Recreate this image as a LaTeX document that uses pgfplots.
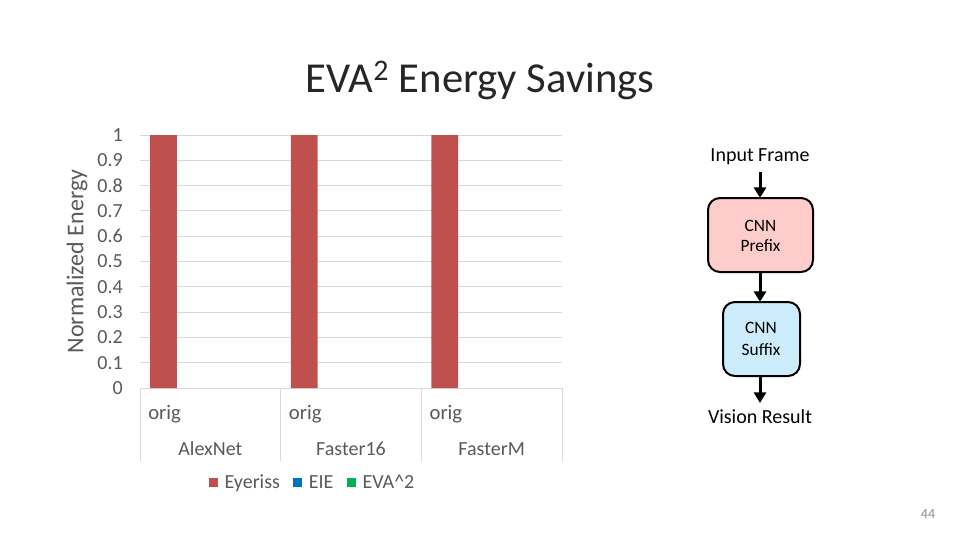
\documentclass[border=0pt]{standalone}
\usepackage{fontspec}
\setmainfont{Carlito}
\usepackage{pgfplots}
\pgfplotsset{compat=1.18}
\usetikzlibrary{arrows.meta}
\definecolor{ered}{RGB}{192,80,77}
\definecolor{eblue}{RGB}{0,112,192}
\definecolor{egreen}{RGB}{0,176,80}
\definecolor{tgray}{RGB}{89,89,89}
\definecolor{ggray}{RGB}{217,217,217}
\definecolor{pinkbox}{RGB}{255,204,204}
\definecolor{bluebox}{RGB}{204,236,252}
\begin{document}
\begin{tikzpicture}
\path[use as bounding box] (0,0) rectangle (720pt,-405pt);
\begin{axis}[
  at={(105pt,-291pt)}, anchor=south west,
  scale only axis, width=316.5pt, height=189.75pt,
  xmin=0, xmax=3, ymin=0, ymax=1,
  ytick={0,0.1,0.2,0.3,0.4,0.5,0.6,0.7,0.8,0.9,1},
  yticklabels={0,0.1,0.2,0.3,0.4,0.5,0.6,0.7,0.8,0.9,1},
  xtick=\empty,
  axis line style={draw=none},
  tick style={draw=none},
  ymajorgrids, major grid style={ggray, line width=0.75pt},
  yticklabel style={font=\fontsize{15}{15}\selectfont, text=tgray, anchor=east, inner sep=0pt, xshift=-12.75pt},
  clip=false,
  legend style={at={(rel axis cs:0.41,-0.375)}, anchor=center, draw=none, fill=none,
    font=\fontsize{15}{15}\selectfont, text=tgray, legend columns=-1,
    /tikz/every odd column/.append style={column sep=3pt},
    /tikz/every even column/.append style={column sep=8pt}},
  legend image code/.code={\path[#1, draw=none] (0pt,-3.375pt) rectangle (6.75pt,3.375pt);},
]
\addplot[ybar, bar width=0.19, fill=ered, draw=none] coordinates {(0.167,1) (1.167,1) (2.167,1)};
\addlegendentry{Eyeriss}
\addlegendimage{fill=eblue}
\addlegendentry{EIE}
\addlegendimage{fill=egreen}
\addlegendentry{EVA\textasciicircum 2}
\draw[ggray, line width=0.75pt] (axis cs:0,0) -- (axis cs:0,-0.2885);
\draw[ggray, line width=0.75pt] (axis cs:1,0) -- (axis cs:1,-0.2885);
\draw[ggray, line width=0.75pt] (axis cs:2,0) -- (axis cs:2,-0.2885);
\draw[ggray, line width=0.75pt] (axis cs:3,0) -- (axis cs:3,-0.2885);
\node[anchor=west, inner sep=0pt, text=tgray, font=\fontsize{15.5}{15.5}\selectfont] at (axis cs:0.057,-0.105) {orig};
\node[anchor=west, inner sep=0pt, text=tgray, font=\fontsize{15.5}{15.5}\selectfont] at (axis cs:1.057,-0.105) {orig};
\node[anchor=west, inner sep=0pt, text=tgray, font=\fontsize{15.5}{15.5}\selectfont] at (axis cs:2.057,-0.105) {orig};
\node[text=tgray, font=\fontsize{15}{15}\selectfont] at (axis cs:0.5,-0.241) {AlexNet};
\node[text=tgray, font=\fontsize{15}{15}\selectfont] at (axis cs:1.5,-0.241) {Faster16};
\node[text=tgray, font=\fontsize{15}{15}\selectfont] at (axis cs:2.5,-0.241) {FasterM};
\node[rotate=90, text=tgray, font=\fontsize{18}{18}\selectfont] at (rel axis cs:-0.149,0.5) {Normalized Energy};
\end{axis}
\begin{scope}[x=0.75pt, y=-0.75pt]
\node[font=\fontsize{32}{32}\selectfont, text=black!85] at (480,80) {EVA\textsuperscript{2} Energy Savings};
\node[font=\fontsize{15}{15}\selectfont] at (760,157) {Input Frame};
\draw[line width=2.25pt, -{Triangle[length=8pt,width=9pt]}] (760,172) -- (760,198);
\draw[line width=1.5pt, rounded corners=9pt, fill=pinkbox] (708,198) rectangle (813,272);
\node[font=\fontsize{13}{13}\selectfont] at (760.5,226) {CNN};
\node[font=\fontsize{13}{13}\selectfont] at (760.5,246) {Prefix};
\draw[line width=2.25pt, -{Triangle[length=8pt,width=9pt]}] (760,273) -- (760,302);
\draw[line width=1.5pt, rounded corners=9pt, fill=bluebox] (723,302) rectangle (800,376);
\node[font=\fontsize{13}{13}\selectfont] at (761,328) {CNN};
\node[font=\fontsize{13}{13}\selectfont] at (761,350) {Suffix};
\draw[line width=2.25pt, -{Triangle[length=8pt,width=9pt]}] (760,377) -- (760,403);
\node[font=\fontsize{15}{15}\selectfont] at (760,417) {Vision Result};
\node[font=\fontsize{10.5}{10.5}\selectfont, text=black!45] at (928,514) {44};
\end{scope}
\end{tikzpicture}
\end{document}
